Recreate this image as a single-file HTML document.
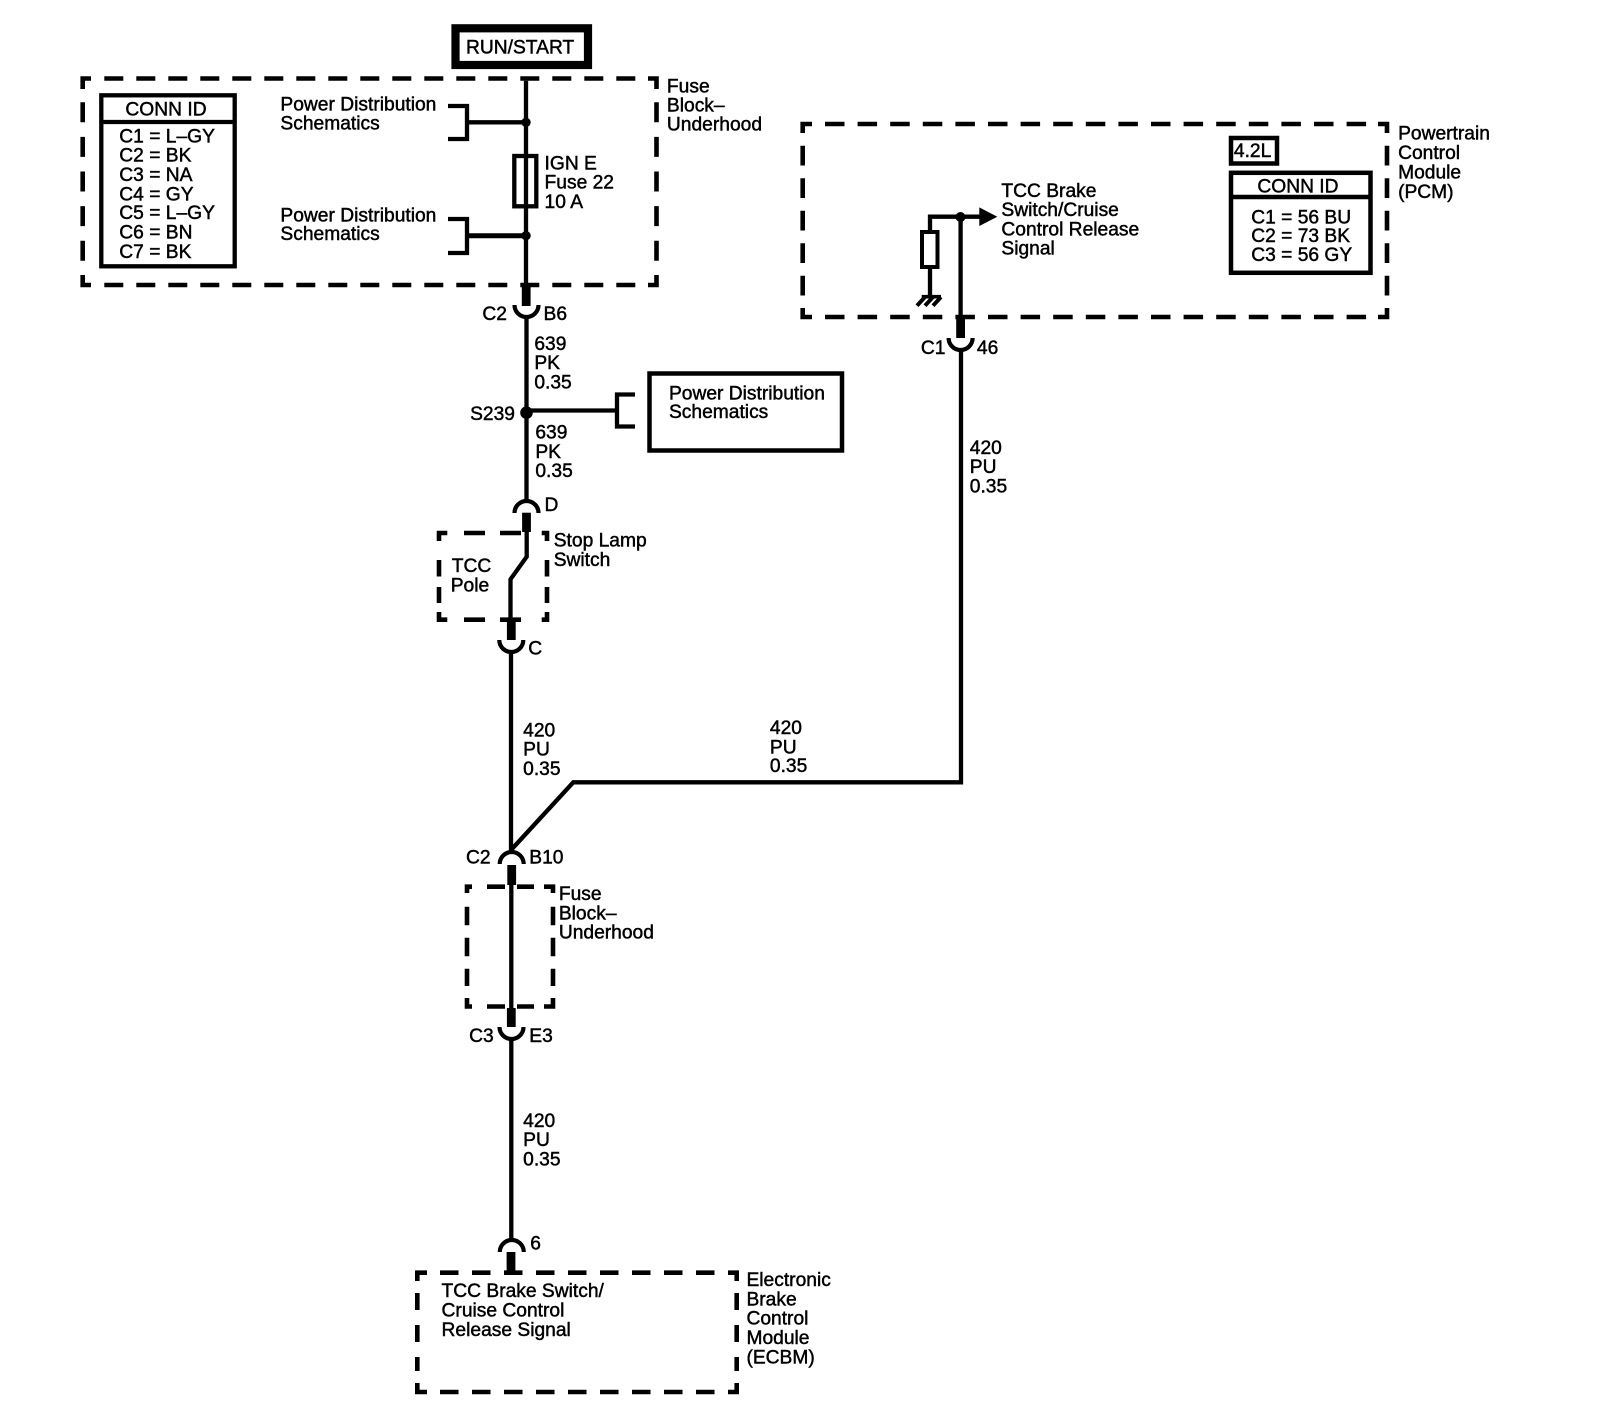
<!DOCTYPE html>
<html><head><meta charset="utf-8"><title>Diagram</title>
<style>
html,body{margin:0;padding:0;background:#fff}
svg{display:block}
text{font-family:"Liberation Sans",sans-serif;font-size:18.85px;fill:#000;stroke:#000;stroke-width:.45}
.w{fill:none;stroke:#000;stroke-width:4.3}
.d{fill:none;stroke:#000;stroke-width:4.6}
.t{fill:none;stroke:#000;stroke-width:8.800}
.a{fill:none;stroke:#000;stroke-width:4.2}
.b{fill:none;stroke:#000;stroke-width:4.3}
</style></head><body>
<svg xmlns="http://www.w3.org/2000/svg" width="1600" height="1418" viewBox="0 0 1600 1418">
<rect width="1600" height="1418" fill="#fff"/>

<!-- RUN/START -->
<rect x="455.500" y="28.300" width="132.500" height="36.700" fill="none" stroke="#000" stroke-width="8.200"/>

<!-- Fuse block top dashed -->
<path class="d" d="M91 78.500H82.700V89M648 78.500H656.500V89M82.700 275V285H91M648 285H656.500V275"/>
<path class="d" stroke-dasharray="19 13" d="M104.300 78.500H636M104.300 285H636"/>
<path class="d" stroke-dasharray="20 14.600" d="M82.700 102.300V262M656.500 102.300V262"/>

<!-- CONN ID 1 -->
<rect x="101.300" y="95.300" width="133.400" height="171" class="b"/>
<path class="b" d="M100 122H236"/>

<!-- brackets and fuse -->
<path class="w" d="M448 106H467V139H448M467 122.300H526"/>
<path class="w" d="M448 219H467V253H448"/>
<path d="M467 235.700H526" stroke="#000" stroke-width="5"/>
<circle cx="526" cy="122.300" r="4.700"/><circle cx="526" cy="235.700" r="4.700"/>
<rect x="514.300" y="156" width="22" height="50.300" class="b"/>
<path class="w" d="M526 80.700V286"/>

<!-- C2 B6 -->
<path class="t" d="M526.200 283V306"/>
<path class="a" d="M514.500 305A12 12 0 0 0 538.500 305"/>

<path class="w" d="M526.500 317V500"/>
<circle cx="526.500" cy="412.700" r="6.300"/>
<path class="w" d="M526 410.500H617M635 394.500H617V426.500H635"/>
<rect x="649.500" y="373.500" width="192.500" height="77" fill="none" stroke="#000" stroke-width="4.500"/>

<!-- D -->
<path class="a" d="M514.500 513A12 12 0 0 1 538.500 513"/>
<path class="t" d="M526.500 512.700V532"/>

<!-- Stop lamp dashed -->
<path class="d" d="M447.300 533H439V541M541.700 533H547V541M439 612V619.700H447.300M541.700 619.700H547V612"/>
<path class="d" stroke-dasharray="21 15" d="M464 533H521M464 619.700H521"/>
<path class="d" stroke-dasharray="16.500 10.500" d="M439 560V603M547 560V603"/>
<path class="w" d="M526.700 530V556.700L510.500 579.300V625"/>
<path class="t" d="M511.300 620V640"/>
<path class="a" d="M499.300 640A12 12 0 0 0 523.300 640"/>

<!-- Main wire -->
<path class="w" d="M511 651V852"/>
<path class="w" d="M511 850L573.300 782.300H961V351"/>

<!-- C2 B10 -->
<path class="a" d="M499.700 864A12 12 0 0 1 523.700 864"/>
<path class="t" d="M511.700 865V885"/>

<path class="d" d="M472 886.700H467V893M544 886.700H553V893M467 998V1006.500H472M544 1006.500H553V998"/>
<path class="d" stroke-dasharray="18 12" d="M487 886.700H534M487 1006.500H534"/>
<path class="d" stroke-dasharray="18.500 12.500" d="M467 906.700V986M553 906.700V986"/>
<path class="w" d="M511.300 884V1010"/>

<!-- C3 E3 -->
<path class="t" d="M511.300 1008V1027"/>
<path class="a" d="M499.500 1027A12 12 0 0 0 523.500 1027"/>
<path class="w" d="M511.300 1039V1239"/>

<!-- 6 -->
<path class="a" d="M499.800 1252A12 12 0 0 1 523.800 1252"/>
<path class="t" d="M511 1252V1272"/>

<!-- ECBM dashed -->
<path class="d" d="M427 1272.700H417.300V1281M728 1272.700H736.700V1281M417.300 1383V1392H427M728 1392H736.700V1383"/>
<path class="d" stroke-dasharray="18.500 13.500" d="M440 1272.700H715M440 1392H715"/>
<path class="d" stroke-dasharray="17 15" d="M417.300 1293V1371M736.700 1293V1371"/>

<!-- PCM dashed -->
<path class="d" d="M812 124H802.700V133M1378 124H1387V133M802.700 308V317H812M1378 317H1387V308"/>
<path class="d" stroke-dasharray="19.500 13.100" d="M825 124H1367M825 317H1367"/>
<path class="d" stroke-dasharray="19.800 12.700" d="M802.700 145.700V296M1387 145.700V296"/>

<rect x="1231" y="138" width="46" height="25.500" fill="none" stroke="#000" stroke-width="4.500"/>
<rect x="1231" y="172.800" width="139.500" height="100" fill="none" stroke="#000" stroke-width="4.500"/>
<path d="M1230 197H1372" stroke="#000" stroke-width="4.500"/>

<!-- PCM signal -->
<path class="w" d="M930 232V216.700H981M930 267V297M960.600 217V318"/>
<circle cx="960.500" cy="217" r="5"/>
<path d="M979.300 207.400L997.300 216.700L979.300 226Z"/>
<rect x="922" y="232" width="15.500" height="35" fill="none" stroke="#000" stroke-width="4"/>
<path d="M921.700 296.700H941" stroke="#000" stroke-width="3.600"/>
<path d="M925 297L917 305.700M933 297L925 305.700M941 297L933 305.700" stroke="#000" stroke-width="4"/>

<!-- C1 46 -->
<path class="t" d="M960.600 316V338"/>
<path class="a" d="M948.600 338A12 12 0 0 0 972.600 338"/>

<!-- Text -->
<g transform="scale(1.01976)">
<text x="457" y="52.500">RUN/START</text>
<text x="654" y="90.500">Fuse</text><text x="654" y="109.500">Block–</text><text x="654" y="128">Underhood</text>
<text x="123" y="113.500">CONN ID</text>
<text x="117" y="139.500">C1 = L–GY</text><text x="117" y="158.500">C2 = BK</text><text x="117" y="177.500">C3 = NA</text><text x="117" y="196.500">C4 = GY</text><text x="117" y="215">C5 = L–GY</text><text x="117" y="234">C6 = BN</text><text x="117" y="253">C7 = BK</text>
<text x="275" y="108.500">Power Distribution</text><text x="275" y="127">Schematics</text>
<text x="275" y="217">Power Distribution</text><text x="275" y="235.500">Schematics</text>
<text x="534" y="166">IGN E</text><text x="534" y="185">Fuse 22</text><text x="534" y="204">10 A</text>
<text x="473" y="314">C2</text><text x="533" y="314">B6</text>
<text x="524" y="343">639</text><text x="524" y="362">PK</text><text x="524" y="381">0.35</text>
<text x="461" y="412">S239</text>
<text x="525" y="430">639</text><text x="525" y="449">PK</text><text x="525" y="468">0.35</text>
<text x="656" y="392">Power Distribution</text><text x="656" y="410">Schematics</text>
<text x="534" y="501">D</text>
<text x="543" y="536">Stop Lamp</text><text x="543" y="555">Switch</text>
<text x="443" y="561">TCC</text><text x="442" y="580">Pole</text>
<text x="518" y="642">C</text>
<text x="513" y="722">420</text><text x="513" y="741">PU</text><text x="513" y="760">0.35</text>
<text x="755" y="720">420</text><text x="755" y="739">PU</text><text x="755" y="757">0.35</text>
<text x="951" y="445">420</text><text x="951" y="464">PU</text><text x="951" y="483">0.35</text>
<text x="457" y="847">C2</text><text x="519" y="847">B10</text>
<text x="548" y="882.500">Fuse</text><text x="548" y="901.500">Block–</text><text x="548" y="920.500">Underhood</text>
<text x="460" y="1022">C3</text><text x="519" y="1022">E3</text>
<text x="513" y="1105">420</text><text x="513" y="1124">PU</text><text x="513" y="1143">0.35</text>
<text x="520" y="1225.500">6</text>
<text x="433" y="1272">TCC Brake Switch/</text><text x="433" y="1291">Cruise Control</text><text x="433" y="1310">Release Signal</text>
<text x="732" y="1261">Electronic</text><text x="732" y="1280">Brake</text><text x="732" y="1299">Control</text><text x="732" y="1318">Module</text><text x="732" y="1337">(ECBM)</text>
<text x="1371" y="137">Powertrain</text><text x="1371" y="156">Control</text><text x="1371" y="175">Module</text><text x="1371" y="194">(PCM)</text>
<text x="1210" y="154">4.2L</text>
<text x="1233" y="189">CONN ID</text>
<text x="1227" y="219">C1 = 56 BU</text><text x="1227" y="237.500">C2 = 73 BK</text><text x="1227" y="256">C3 = 56 GY</text>
<text x="982" y="193">TCC Brake</text><text x="982" y="212">Switch/Cruise</text><text x="982" y="231">Control Release</text><text x="982" y="249.500">Signal</text>
<text x="903" y="347">C1</text><text x="958" y="347">46</text>
</g>
</svg>
</body></html>
